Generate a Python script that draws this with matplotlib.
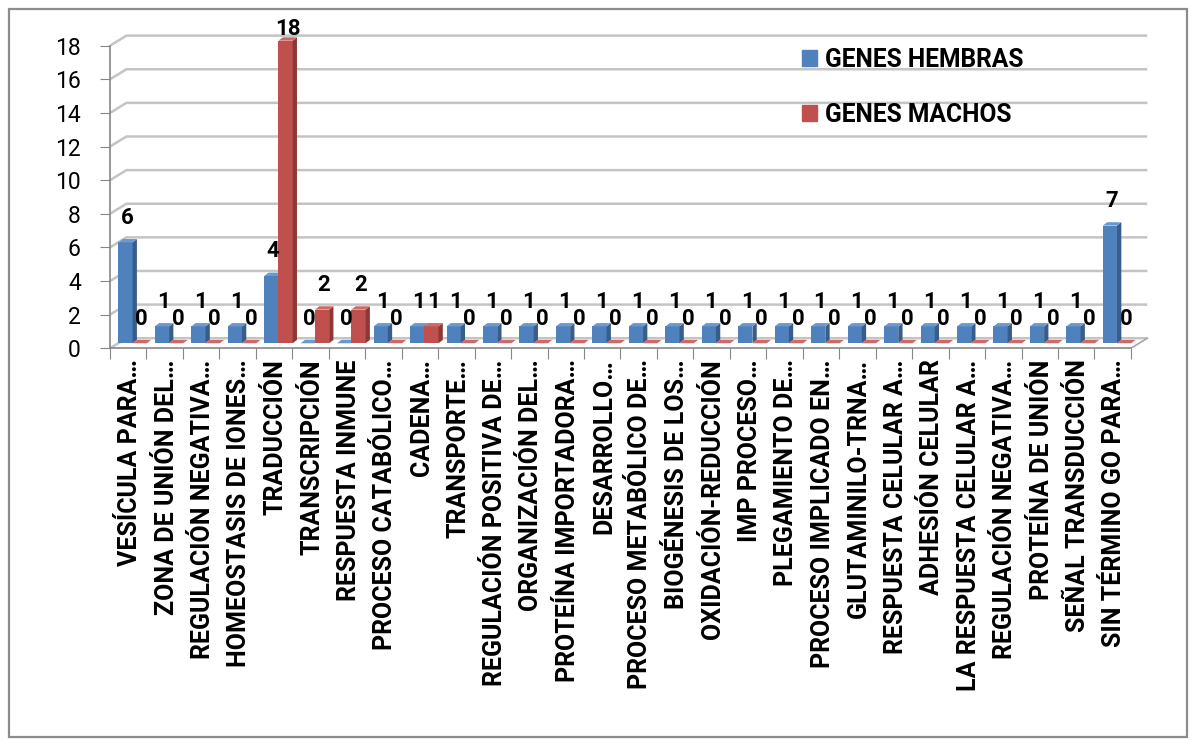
import matplotlib
matplotlib.use("Agg")
import matplotlib.pyplot as plt
from matplotlib.patches import Polygon, Rectangle, Patch

plt.rcParams['font.family'] = ['Roboto', 'DejaVu Sans']

categorias = ["VESÍCULA PARA…", "ZONA DE UNIÓN DEL…", "REGULACIÓN NEGATIVA…",
              "HOMEOSTASIS DE IONES…", "TRADUCCIÓN", "TRANSCRIPCIÓN",
              "RESPUESTA INMUNE", "PROCESO CATABÓLICO…", "CADENA…", "TRANSPORTE…",
              "REGULACIÓN POSITIVA DE…", "ORGANIZACIÓN DEL…", "PROTEÍNA IMPORTADORA…",
              "DESARROLLO…", "PROCESO METABÓLICO DE…", "BIOGÉNESIS DE LOS…",
              "OXIDACIÓN-REDUCCIÓN", "IMP PROCESO…", "PLEGAMIENTO DE…",
              "PROCESO IMPLICADO EN…", "GLUTAMINILO-TRNA…", "RESPUESTA CELULAR A…",
              "ADHESIÓN CELULAR", "LA RESPUESTA CELULAR A…", "REGULACIÓN NEGATIVA…",
              "PROTEÍNA DE UNIÓN", "SEÑAL TRANSDUCCIÓN", "SIN TÉRMINO GO PARA…"]
hembras = [6, 1, 1, 1, 4, 0, 0, 1, 1, 1, 1, 1, 1, 1,
           1, 1, 1, 1, 1, 1, 1, 1, 1, 1, 1, 1, 1, 7]
machos = [0, 0, 0, 0, 18, 2, 2, 0, 1, 0, 0, 0, 0, 0,
          0, 0, 0, 0, 0, 0, 0, 0, 0, 0, 0, 0, 0, 0]
series = [("GENES HEMBRAS", hembras, ('#4F81BD', '#385D8A', '#6B98D0')),
          ("GENES MACHOS", machos, ('#C0504D', '#8B3836', '#CF6866'))]
y_ticks = list(range(0, 19, 2))

# pseudo 3D geometry (data units)
DX, DY = 0.45, 0.60      # depth of the walls
BX, BY = 0.118, 0.20     # depth of each column
BASE = 0.3               # columns stand mid-depth on the floor
W = 0.39
n = len(categorias)
XMAX, YMAX = 28.6, 19.6
W_PX, H_PX = 1194, 744
cat_px, val_px = 36.46, 16.81

fig = plt.figure(figsize=(W_PX / 100, H_PX / 100), dpi=100)
ax = fig.add_axes([110 / W_PX, (H_PX - 348.3) / H_PX,
                   XMAX * cat_px / W_PX, YMAX * val_px / H_PX])
ax.set_xlim(0, XMAX)
ax.set_ylim(0, YMAX)

# back wall gridlines with the side-wall diagonal
for v in y_ticks:
    ax.plot([0, DX, n + DX], [v, v + DY, v + DY], color='#C4C4C4', lw=1.8,
            zorder=1, solid_capstyle='butt')
ax.plot([n, n + DX], [0, DY], color='#A6A6A6', lw=1.2, zorder=1)

gray = '#868686'
for s in ['top', 'right']:
    ax.spines[s].set_visible(False)
ax.spines['left'].set_bounds(0, 18)
ax.spines['bottom'].set_bounds(0, n)
for s in ['left', 'bottom']:
    ax.spines[s].set_color(gray)
    ax.spines[s].set_linewidth(1.2)

ax.set_yticks(y_ticks)
ax.tick_params(axis='y', direction='out', length=7, color=gray, labelsize=16.5, pad=14)
ax.set_xticks(range(n + 1))
ax.set_xticklabels([])
ax.tick_params(axis='x', which='major', direction='out', length=8, color=gray)
ax.set_xticks([i + 0.55 for i in range(n)], minor=True)
ax.set_xticklabels(categorias, minor=True, rotation=90, fontsize=18,
                   fontweight='bold')
ax.tick_params(axis='x', which='minor', length=0, pad=8)

z = 3
for i in range(n):
    for k, (nombre, vals, (c_front, c_side, c_top)) in enumerate(series):
        h = vals[i]
        x0 = i + 0.23 + k * W
        x1 = x0 + W
        ax.bar(x0, h, width=W, bottom=BASE, align='edge', color=c_front,
               linewidth=0, zorder=z)
        ax.add_patch(Polygon([(x1, BASE), (x1 + BX, BASE + BY),
                              (x1 + BX, BASE + h + BY), (x1, BASE + h)],
                             closed=True, color=c_side, lw=0, zorder=z))
        ax.add_patch(Polygon([(x0, BASE + h), (x0 + BX, BASE + h + BY),
                              (x1 + BX, BASE + h + BY), (x1, BASE + h)],
                             closed=True, color=c_top, lw=0, zorder=z))
        ax.text(x0 + W / 2 + 0.05, min(BASE + h + 1.46, 19.0), str(h),
                ha='center', va='center', fontsize=16, fontweight='bold',
                zorder=20)
        z += 1

handles = [Patch(color=c[0], label=nm) for nm, _, c in series]
ax.legend(handles=handles, loc='upper left', frameon=False,
          bbox_to_anchor=(801.7 / W_PX, 1 - 48 / H_PX),
          bbox_transform=fig.transFigure, borderpad=0,
          borderaxespad=0, handlelength=0.62, handleheight=0.62,
          handletextpad=0.33, labelspacing=1.25,
          prop={'weight': 'bold', 'size': 17.7})

# chart border
fig.add_artist(Rectangle((8.5 / W_PX, 1 - 737 / H_PX), (1187 - 8.5) / W_PX,
                         (737 - 9.3) / H_PX, transform=fig.transFigure,
                         fill=False, ec='#8C8C8C', lw=1.6))

fig.savefig("out.png", dpi=100)
